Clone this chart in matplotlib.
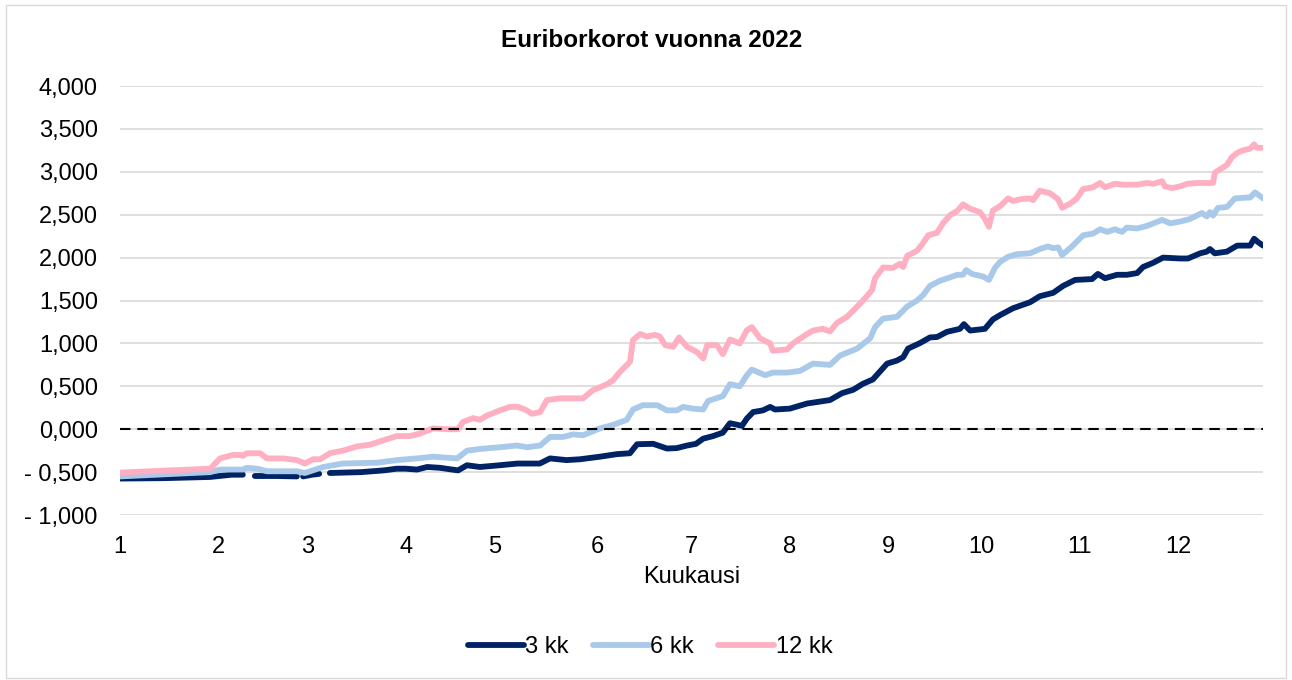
import numpy as np
import matplotlib
matplotlib.use('Agg')
import matplotlib.pyplot as plt
from matplotlib.patches import Rectangle

plt.rcParams['font.family'] = ['Liberation Sans', 'DejaVu Sans']

# trading day index within 2022 (0 = first quote day), value in %
d3 = [0, 10, 20.2, 25, 27.5, 29, 30.2, 35, 39.6, 40.5, 41, 43, 44.6, 46, 47, 54, 59, 62, 64, 66.5,
      68.8, 71.7, 75.7, 77.7, 80.6, 85, 89, 94, 96.3, 100, 103, 107.5, 111.3, 114.2, 115.8, 119.4,
      122.5, 124.7, 127, 129, 130.6, 132.8, 135, 136.6, 139.3, 140.4, 141.8, 144, 145.6, 146.7, 150,
      153.9, 155.2, 159, 161.7, 164.2, 166.4, 168.6, 171.8, 174, 175.4, 176.5, 179.2, 181.4, 183,
      185.2, 188.1, 189, 190.4, 193.7, 195.5, 197.1, 200, 203.8, 206, 209, 211.2, 213.9, 217.7, 219,
      220.6, 223.3, 225.5, 227.8, 229.1, 231.4, 233.6, 237.4, 239.2, 241.9, 243.4, 244.1, 245.2,
      247.9, 250.2, 253.1, 254, 254.9, 256]
v3 = [-0.575, -0.57, -0.556, -0.53, -0.53, np.nan, -0.545, -0.545, -0.55, np.nan, -0.55, -0.53, -0.52,
      np.nan, -0.51, -0.50, -0.48, -0.46, -0.46, -0.47,
      -0.44, -0.45, -0.48, -0.42, -0.44, -0.42, -0.40, -0.40, -0.34, -0.36, -0.35, -0.32, -0.29, -0.28,
      -0.175, -0.17, -0.225, -0.22, -0.19, -0.17, -0.11, -0.08, -0.04, 0.07, 0.04, 0.125, 0.20, 0.22,
      0.26, 0.23, 0.24, 0.30, 0.31, 0.34, 0.42, 0.46, 0.53, 0.58, 0.765, 0.80, 0.84, 0.94, 1.005, 1.07,
      1.075, 1.135, 1.17, 1.225, 1.15, 1.17, 1.28, 1.33, 1.41, 1.48, 1.55, 1.59, 1.67, 1.74, 1.75, 1.81,
      1.76, 1.80, 1.80, 1.82, 1.89, 1.94, 2.00, 1.99, 1.99, 2.05, 2.07, 2.10, 2.05,
      2.07, 2.14, 2.14, 2.22, 2.18, 2.14]

d6 = [0, 20.2, 22.4, 27.5, 28.4, 30.7, 32.9, 39.6, 41.4, 45.5, 49.9, 57.6, 62, 66.5, 70.1, 75.5, 77.7,
      80.6, 85.1, 88.9, 91.2, 94.1, 96.3, 99.2, 101.5, 103.7, 107.5, 110.4, 113.5, 114.9, 117.1, 120.3,
      122.5, 124.7, 126.1, 128.3, 130.6, 131.7, 135, 136.6, 138.8, 140.4, 141.5, 144.5, 146.2, 149.4,
      152.3, 155.2, 159, 161.3, 165.1, 168, 169.1, 170.9, 174, 176.3, 178.5, 179.8, 181.4, 183.6, 185.9,
      187.5, 188.8, 189.5, 190.8, 193.3, 194.6, 196, 197.1, 198.9, 200.9, 203.8, 206, 207.8, 209, 210.1,
      211, 213.2, 215.7, 217.9, 219.5, 221.1, 222.8, 224.4, 225.5, 227.8, 230, 233.4, 235.2, 237.4,
      239.6, 242.3, 243.4, 244.1, 244.8, 245.9, 247.9, 249.7, 252.4, 253.1, 254.2, 256]
v6 = [-0.55, -0.50, -0.47, -0.47, -0.45, -0.46, -0.49, -0.49, -0.51, -0.44, -0.40, -0.39, -0.36, -0.34,
      -0.32, -0.34, -0.25, -0.23, -0.21, -0.19, -0.21, -0.19, -0.09, -0.09, -0.06, -0.07, 0.01, 0.05,
      0.11, 0.23, 0.28, 0.28, 0.22, 0.22, 0.26, 0.24, 0.23, 0.33, 0.385, 0.525, 0.50, 0.63, 0.695, 0.63,
      0.66, 0.66, 0.68, 0.765, 0.75, 0.86, 0.94, 1.06, 1.19, 1.29, 1.31, 1.43, 1.50, 1.56, 1.67, 1.73,
      1.77, 1.80, 1.80, 1.855, 1.81, 1.78, 1.74, 1.885, 1.95, 2.01, 2.04, 2.05, 2.10, 2.13, 2.11, 2.12,
      2.03, 2.13, 2.26, 2.28, 2.33, 2.30, 2.33, 2.30, 2.35, 2.34, 2.37, 2.44, 2.40, 2.42,
      2.45, 2.52, 2.48, 2.53, 2.49, 2.58, 2.59, 2.69, 2.70, 2.70, 2.76, 2.69]

d12 = [0, 20.2, 22.4, 25.3, 26.9, 27.5, 28.4, 31.4, 32.9, 36.5, 39.6, 41.4, 43.2, 44.8, 47, 49.9, 53.1,
       56, 58.9, 62, 64.9, 67.2, 70.1, 73.2, 75.7, 76.8, 79.1, 80.6, 82.2, 85.1, 87.3, 89.1, 90.7, 92.3,
       94.1, 95.6, 98.5, 103.7, 105.9, 109.1, 110.4, 112, 114.2, 114.9, 116.5, 118, 119.8, 120.9, 122.1,
       123.9, 125.2, 127, 129.2, 130.6, 131.5, 133.7, 135, 136.6, 138.8, 140.4, 141.5, 143.3, 145.6,
       146.2, 149.4, 150.7, 153.9, 155.2, 157.4, 159, 160.6, 162.8, 165.1, 166.4, 168.4, 169.1, 170.9,
       173.1, 174.7, 175.4, 176.3, 178.5, 179.8, 181, 183, 184.3, 185.9, 187.5, 188.8, 190.4, 192.6,
       193.7, 194.6, 195.5, 197.1, 198.9, 200, 201.6, 203.8, 204.5, 206, 208.3, 210.1, 211, 212.8, 214.3,
       215.7, 217.9, 219.5, 220.6, 222.8, 224.6, 227.8, 230, 231.4, 233.4, 234, 235.6, 237.4, 239, 241.2,
       244.1, 244.8, 245.2, 246.4, 247.9, 249, 250.2, 251.5, 253.1, 254, 254.6, 255.8]
v12 = [-0.505, -0.46, -0.34, -0.30, -0.30, -0.31, -0.28, -0.28, -0.34, -0.34, -0.36, -0.40, -0.35, -0.35,
       -0.28, -0.25, -0.20, -0.18, -0.13, -0.08, -0.08, -0.05, 0.01, 0.0, 0.0, 0.085, 0.13, 0.11, 0.16,
       0.22, 0.26, 0.26, 0.23, 0.18, 0.20, 0.34, 0.36, 0.36, 0.455, 0.525, 0.57, 0.67, 0.785, 1.04, 1.11,
       1.08, 1.10, 1.08, 0.98, 0.96, 1.07, 0.96, 0.90, 0.825, 0.98, 0.98, 0.875, 1.045, 1.00, 1.155, 1.19,
       1.06, 1.00, 0.915, 0.93, 1.00, 1.11, 1.15, 1.17, 1.14, 1.24, 1.31, 1.43, 1.50, 1.62, 1.76, 1.885,
       1.88, 1.93, 1.89, 2.02, 2.08, 2.165, 2.26, 2.29, 2.40, 2.495, 2.545, 2.62, 2.57, 2.53,
       2.45, 2.36, 2.55, 2.60, 2.69, 2.66, 2.68, 2.69, 2.67, 2.78, 2.75, 2.68, 2.58, 2.63, 2.69,
       2.80, 2.82, 2.87, 2.82, 2.86, 2.85, 2.85, 2.87, 2.86, 2.89, 2.83, 2.81, 2.83, 2.86, 2.87,
       2.87, 2.87, 2.99, 3.03, 3.08, 3.17, 3.22, 3.25, 3.27, 3.32, 3.28, 3.28]

month_start = [0, 22, 42, 64, 84, 107, 128, 150, 172, 193, 215, 237]
month_labels = [str(m) for m in range(1, 13)]
y_ticks = [-1, -0.5, 0, 0.5, 1, 1.5, 2, 2.5, 3, 3.5, 4]
y_labels = ['- 1,000', '- 0,500', '0,000', '0,500', '1,000', '1,500', '2,000', '2,500',
            '3,000', '3,500', '4,000']

fig = plt.figure(figsize=(12.92, 6.8), dpi=100)
fig.patches.append(Rectangle((0.005, 0.003), 0.99, 0.99, transform=fig.transFigure,
                             fill=False, edgecolor='#d9d9d9', linewidth=1))
ax = fig.add_axes([0.0929, 0.2426, 0.8847, 0.6309])

ax.plot(d3, v3, color='#002366', lw=4.2, label='3 kk', solid_capstyle='round', zorder=3)
ax.plot(d6, v6, color='#a9c9ea', lw=4.2, label='6 kk', solid_capstyle='round', zorder=4)
ax.plot(d12, v12, color='#ffafc2', lw=4.2, label='12 kk', solid_capstyle='round', zorder=5)
ax.axhline(0, color='black', lw=1.5, dashes=(5, 3.3), zorder=6)

ax.set_xlim(0, 256)
ax.set_ylim(-1, 4)
ax.set_yticks(y_ticks)
ax.set_yticklabels(y_labels)
ax.set_xticks(month_start)
ax.set_xticklabels(month_labels)
ax.tick_params(length=0, labelsize=17, colors='#000000')
ax.tick_params(axis='y', pad=16)
ax.tick_params(axis='x', pad=15)
ax.grid(axis='y', color='#d9d9d9', lw=1.2)
ax.set_axisbelow(True)
for s in ax.spines.values():
    s.set_visible(False)
ax.set_xlabel('Kuukausi', fontsize=17, labelpad=6)

fig.text(0.504, 0.941, 'Euriborkorot vuonna 2022', ha='center', va='center',
         fontsize=17.5, fontweight='bold')
fig.legend(loc='center', bbox_to_anchor=(0.503, 0.048), ncol=3, frameon=False, fontsize=17,
           handlelength=2.4, handletextpad=0.05, columnspacing=1.0)

fig.savefig('out.png', dpi=100)
